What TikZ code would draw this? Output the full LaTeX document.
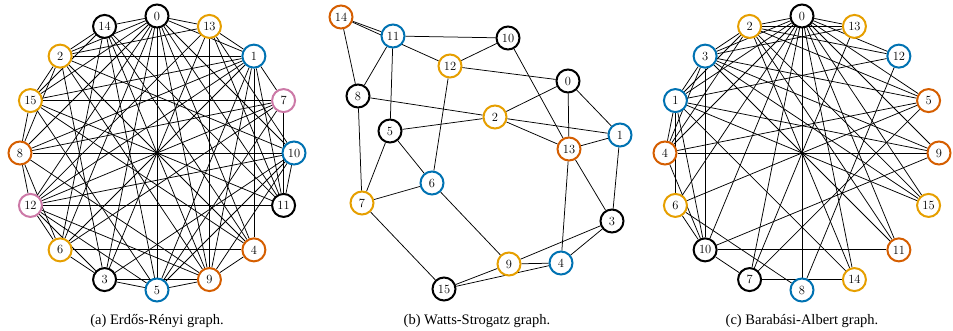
\documentclass[tikz,border=0pt]{standalone}
\usepackage{fontspec}
\usetikzlibrary{calc}
\newfontfamily\capfont{Liberation Serif}
\pgfdeclarelayer{bg}
\pgfsetlayers{bg,main}
\definecolor{cOr}{HTML}{E69F00}
\definecolor{cDo}{HTML}{D55E00}
\definecolor{cBl}{HTML}{0072B2}
\definecolor{cPk}{HTML}{CC79A7}
\definecolor{cBk}{HTML}{000000}
\tikzset{
  vtx/.style={circle,draw=#1,line width=2pt,fill=white,minimum size=23pt,inner sep=0pt,font=\fontsize{12.5}{13}\selectfont},
  edge/.style={line width=0.75pt,black},
  captext/.style={font=\capfont\fontsize{14.5}{16}\selectfont,anchor=base}
}
\begin{document}
\begin{tikzpicture}[x=1pt,y=-1pt]
\useasboundingbox (0,0) rectangle (953,331);
% ---------- (a) Erdos-Renyi ----------
\coordinate (ca) at (157,153);
\foreach \n/\c [count=\k from 0] in {0/cBk,13/cOr,1/cBl,7/cPk,10/cBl,11/cBk,4/cDo,9/cDo,5/cBl,3/cBk,6/cOr,12/cPk,8/cDo,15/cOr,2/cOr,14/cBk}
  \node[vtx=\c] (a\n) at ($(ca)+({-90+22.5*\k}:137)$) {\n};
\begin{pgfonlayer}{bg}
\foreach \u/\v in {0/13,0/1,0/14,0/2,0/15,0/8,0/12,0/6,0/3,0/5,0/9,0/4,0/11,0/10,
  13/1,13/9,13/11,13/2,13/12,13/3,13/10,
  1/2,1/7,1/4,1/11,1/15,1/8,1/12,1/6,1/5,1/9,
  7/15,7/11,7/8,7/12,7/6,7/5,
  10/8,10/11,10/9,10/12,10/3,10/2,10/5,
  11/12,11/15,11/14,
  4/6,4/2,4/15,4/14,4/9,
  9/3,9/5,9/12,9/8,9/2,9/14,
  5/3,5/12,5/14,5/15,
  3/6,3/12,3/2,
  6/12,6/8,6/14,
  12/8,8/15,8/2,15/2,15/14,2/14}
  \draw[edge] (a\u) -- (a\v);
\end{pgfonlayer}
% ---------- (b) Watts-Strogatz ----------
\node[vtx=cOr] (b2) at (495,117) {2};
\node[vtx=cDo] (b14) at (341,17) {14};
\node[vtx=cBl] (b11) at (393,36) {11};
\node[vtx=cOr] (b12) at (450,66) {12};
\node[vtx=cBk] (b10) at (508,38) {10};
\node[vtx=cBk] (b0) at (568,81) {0};
\node[vtx=cBk] (b8) at (358,96) {8};
\node[vtx=cBk] (b5) at (390,131) {5};
\node[vtx=cBl] (b1) at (620,135) {1};
\node[vtx=cDo] (b13) at (569,149) {13};
\node[vtx=cBl] (b6) at (432,183) {6};
\node[vtx=cOr] (b7) at (362,203) {7};
\node[vtx=cBk] (b3) at (612,221) {3};
\node[vtx=cOr] (b9) at (509,264) {9};
\node[vtx=cBl] (b4) at (561,263) {4};
\node[vtx=cBk] (b15) at (444,289) {15};
\begin{pgfonlayer}{bg}
\foreach \u/\v in {14/11,14/12,14/8,11/8,11/5,11/10,12/10,12/0,12/6,8/2,8/7,5/2,5/7,5/6,7/6,7/15,
  6/9,15/9,15/4,9/4,9/3,4/3,4/13,13/3,1/3,13/1,2/1,2/13,2/0,0/13,0/1,10/13}
  \draw[edge] (b\u) -- (b\v);
\end{pgfonlayer}
% ---------- (c) Barabasi-Albert ----------
\coordinate (cc) at (802,153);
\foreach \n/\c [count=\k from 0] in {0/cBk,13/cOr,12/cBl,5/cDo,9/cDo,15/cOr,11/cDo,14/cOr,8/cBl,7/cBk,10/cBk,6/cOr,4/cDo,1/cBl,3/cBl,2/cOr}
  \node[vtx=\c] (c\n) at ($(cc)+({-90+22.5*\k}:137)$) {\n};
\begin{pgfonlayer}{bg}
\foreach \u/\v in {0/13,0/12,0/5,0/9,0/15,0/11,0/14,0/8,0/7,0/10,0/6,0/4,0/1,0/3,0/2,
  2/3,2/1,2/4,2/13,2/12,2/5,2/15,2/11,2/14,
  3/1,3/4,3/13,3/5,3/9,3/15,3/11,3/10,
  1/4,1/6,1/10,1/9,1/15,1/14,1/12,
  4/10,4/9,4/5,
  6/8,6/10,6/5,10/11,10/9,10/7,7/14,7/5,7/13,8/12}
  \draw[edge] (c\u) -- (c\v);
\end{pgfonlayer}
% ---------- captions ----------
\node[captext] (capa) at (157,324) {(a) Erdős-Rényi graph.};
\node[captext] (capb) at (477,324) {(b) Watts-Strogatz graph.};
\node[captext] (capc) at (802,324) {(c) Barabási-Albert graph.};
\end{tikzpicture}
\end{document}
